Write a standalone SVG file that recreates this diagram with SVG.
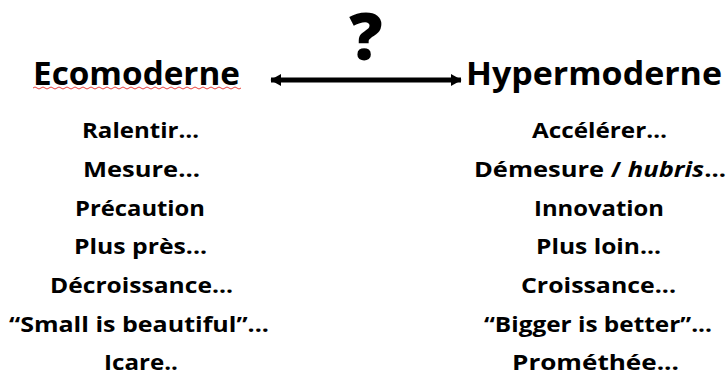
<svg xmlns="http://www.w3.org/2000/svg" width="728" height="374" viewBox="0 0 728 374">
<style>
text{font-family:"Open Sans","Noto Sans","Liberation Sans",sans-serif;font-weight:bold;fill:#000;text-anchor:middle}
.title{font-size:32px}
.item{font-size:21px}
.q{font-size:66px;font-weight:800}
</style>
<defs>
<marker id="ah" viewBox="0 0 9 10" refX="8.5" refY="5" markerWidth="2.2" markerHeight="2.6" orient="auto-start-reverse">
<path d="M0,0 L9,5 L0,10 z" fill="#000"/>
</marker>
</defs>
<rect width="728" height="374" fill="#fff"/>
<g id="question"><text class="q" x="366" y="60">?</text></g>
<g id="connectors">
<line x1="271" y1="80" x2="461" y2="80" stroke="#000" stroke-width="5" marker-start="url(#ah)" marker-end="url(#ah)"/>
</g>
<g id="ecomoderne">
<text class="title" x="136.5" y="85" textLength="207" lengthAdjust="spacingAndGlyphs">Ecomoderne</text>
<path d="M33,88 q2,-2 4,0 t4,0 t4,0 t4,0 t4,0 t4,0 t4,0 t4,0 t4,0 t4,0 t4,0 t4,0 t4,0 t4,0 t4,0 t4,0 t4,0 t4,0 t4,0 t4,0 t4,0 t4,0 t4,0 t4,0 t4,0 t4,0 t4,0 t4,0 t4,0 t4,0 t4,0 t4,0 t4,0 t4,0 t4,0 t4,0 t4,0 t4,0 t4,0 t4,0 t4,0 t4,0 t4,0 t4,0 t4,0 t4,0 t4,0 t4,0 t4,0 t4,0 t4,0 t4,0" fill="none" stroke="#e8403c" stroke-width="1"/>
<text class="item" x="140.5" y="138" textLength="117" lengthAdjust="spacingAndGlyphs">Ralentir…</text>
<text class="item" x="141.5" y="177" textLength="117" lengthAdjust="spacingAndGlyphs">Mesure...</text>
<text class="item" x="140" y="216" textLength="130" lengthAdjust="spacingAndGlyphs">Précaution</text>
<text class="item" x="140.5" y="254" textLength="133" lengthAdjust="spacingAndGlyphs">Plus près...</text>
<text class="item" x="141.5" y="293" textLength="183" lengthAdjust="spacingAndGlyphs">Décroissance...</text>
<text class="item" x="139" y="332" textLength="260" lengthAdjust="spacingAndGlyphs">“Small is beautiful”...</text>
<text class="item" x="141" y="370" textLength="74" lengthAdjust="spacingAndGlyphs">Icare..</text>
</g>
<g id="hypermoderne">
<text class="title" x="594" y="85" textLength="256" lengthAdjust="spacingAndGlyphs">Hypermoderne</text>
<text class="item" x="599.5" y="138" textLength="135" lengthAdjust="spacingAndGlyphs">Accélérer…</text>
<text class="item" x="600" y="177" textLength="252" lengthAdjust="spacingAndGlyphs">Démesure / <tspan font-style="italic">hubris</tspan>...</text>
<text class="item" x="599" y="216" textLength="130" lengthAdjust="spacingAndGlyphs">Innovation</text>
<text class="item" x="598.5" y="254" textLength="125" lengthAdjust="spacingAndGlyphs">Plus loin...</text>
<text class="item" x="598.5" y="293" textLength="155" lengthAdjust="spacingAndGlyphs">Croissance...</text>
<text class="item" x="598" y="332" textLength="228" lengthAdjust="spacingAndGlyphs">“Bigger is better”...</text>
<text class="item" x="595.5" y="370" textLength="167" lengthAdjust="spacingAndGlyphs">Prométhée...</text>
</g>
</svg>
